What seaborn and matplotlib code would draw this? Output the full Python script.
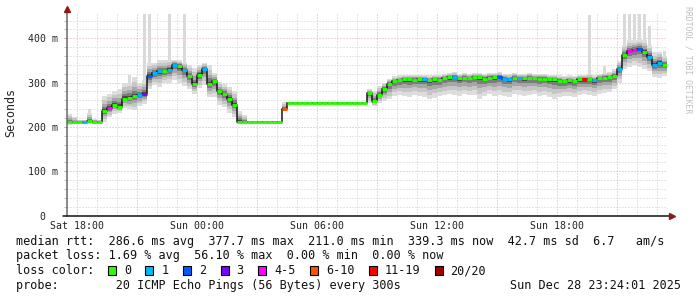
import numpy as np
import pandas as pd
import matplotlib
matplotlib.use("Agg")
import matplotlib.pyplot as plt
from matplotlib.patches import Rectangle
import seaborn as sns

# ---------------- data (15-minute steps starting Sat 17:30) ----------------
step_hours = 0.25
median_ms = [
    211, 211, 211, 211, 213, 211, 211, 235, 243, 250,
    245, 264, 265, 269, 271, 274, 314, 321, 325, 325,
    329, 340, 337, 329, 314, 296, 318, 331, 296, 303,
    280, 274, 264, 250, 212, 211, 211, 211, 211, 211,
    211, 211, 211, 240, 254, 254, 254, 254, 254, 254,
    254, 254, 254, 254, 254, 254, 254, 254, 254, 253,
    276, 258, 272, 285, 297, 303, 305, 307, 307, 306,
    307, 308, 306, 307, 306, 310, 312, 313, 310, 311,
    310, 313, 312, 309, 311, 312, 313, 309, 308, 311,
    310, 310, 311, 310, 309, 309, 308, 307, 304, 303,
    305, 303, 307, 307, 308, 305, 310, 311, 312, 315,
    330, 362, 371, 373, 376, 369, 358, 340, 344, 339]
smoke_high_ms = [
    228, 222, 216, 216, 232, 218, 216, 270, 275, 280,
    285, 300, 300, 312, 300, 305, 345, 345, 350, 350,
    352, 352, 350, 345, 340, 332, 340, 345, 340, 322,
    302, 296, 290, 282, 236, 226, 214, 212, 212, 212,
    212, 212, 212, 256, 254, 254, 254, 254, 254, 254,
    254, 254, 254, 254, 254, 254, 254, 254, 254, 254,
    286, 282, 292, 300, 308, 314, 316, 318, 318, 318,
    318, 318, 316, 318, 317, 320, 322, 323, 320, 321,
    320, 322, 322, 319, 321, 322, 323, 320, 319, 321,
    320, 320, 321, 320, 319, 319, 318, 318, 316, 315,
    316, 315, 318, 318, 319, 316, 320, 322, 324, 330,
    348, 385, 395, 395, 398, 395, 385, 368, 370, 360]
smoke_low_ms = [
    205, 206, 207, 207, 207, 207, 207, 212, 222, 230,
    232, 242, 240, 238, 248, 252, 285, 295, 290, 298,
    300, 305, 298, 292, 285, 275, 288, 295, 268, 268,
    250, 245, 232, 222, 208, 208, 209, 210, 210, 210,
    210, 210, 210, 236, 254, 254, 254, 254, 254, 254,
    254, 254, 254, 254, 254, 254, 254, 254, 254, 253,
    254, 248, 255, 258, 262, 270, 272, 270, 268, 272,
    270, 268, 262, 266, 270, 272, 274, 272, 270, 275,
    272, 272, 262, 270, 274, 270, 272, 270, 268, 275,
    273, 270, 272, 275, 270, 272, 268, 262, 268, 270,
    270, 268, 272, 274, 272, 270, 275, 276, 278, 285,
    300, 330, 335, 340, 335, 330, 325, 312, 310, 315]
loss_level = [
    0, 0, 0, 1, 0, 0, 0, 0, 4, 0,
    0, 0, 0, 0, 1, 3, 2, 1, 1, 0,
    1, 1, 0, 1, 0, 0, 0, 1, 0, 0,
    0, 0, 0, 0, 0, 0, 0, 0, 0, 0,
    0, 0, 0, 5, 0, 0, 0, 0, 0, 0,
    0, 0, 0, 0, 0, 0, 0, 0, 0, 0,
    0, 0, 0, 0, 0, 0, 0, 0, 0, 0,
    0, 1, 0, 0, 0, 0, 0, 1, 0, 0,
    0, 0, 0, 0, 0, 0, 2, 1, 1, 0,
    1, 0, 0, 0, 0, 0, 0, 0, 0, 0,
    0, 0, 0, 6, 0, 1, 0, 0, 0, 0,
    1, 0, 4, 4, 2, 0, 1, 1, 1, 0]
spike_index = [4, 12, 15, 16, 20, 23, 104, 107, 111, 112, 113, 114, 115, 116, 119]
spike_top_ms = [240, 318, 455, 455, 455, 455, 452, 338, 455, 455, 455, 455, 455, 428, 372]

loss_labels = ["0", "1", "2", "3", "4-5", "6-10", "11-19", "20/20"]
loss_colors = ["#26ff00", "#00b8ff", "#0059ff", "#7e00ff",
               "#ff00ff", "#ff5500", "#ff0000", "#a10000"]

x_tick_hours = [0.5, 6.5, 12.5, 18.5, 24.5]
x_tick_labels = ["Sat 18:00", "Sun 00:00", "Sun 06:00", "Sun 12:00", "Sun 18:00"]
y_ticks = [0, 100, 200, 300, 400]
y_tick_labels = ["0  ", "100 m", "200 m", "300 m", "400 m"]

rtt_values = ["286.6 ms avg", "377.7 ms max", "211.0 ms min", "339.3 ms now", "42.7 ms sd", "6.7   am/s"]
loss_values = ["1.69 % avg", "56.10 % max", "0.00 % min", "0.00 % now"]
probe_text = "20 ICMP Echo Pings (56 Bytes) every 300s"
date_text = "Sun Dec 28 23:24:01 2025"

# ---------------- figure ----------------
sns.set_style("white")
plt.rcParams["font.family"] = ["DejaVu Sans Mono", "DejaVu Sans"]

W, H = 697, 297
fig = plt.figure(figsize=(W / 100, H / 100), dpi=100)
fig.patch.set_facecolor("white")
ax = fig.add_axes([67 / W, 1 - 215.5 / H, 600 / W, 202.5 / H])
ax.set_facecolor("white")

n = len(median_ms)
df = pd.DataFrame({
    "t": np.arange(n) * step_hours,
    "median": median_ms,
    "lo": smoke_low_ms,
    "hi": smoke_high_ms,
    "loss": loss_level,
})
t_ext = np.append(df["t"].values, df["t"].values[-1] + step_hours)
med = df["median"].values.astype(float)
lo = df["lo"].values.astype(float)
hi = df["hi"].values.astype(float)

def ext(a):
    return np.append(a, a[-1])

XMAX, YMAX = 30.0, 457.0
ax.set_xlim(0, XMAX)
ax.set_ylim(0, YMAX)

# grid
dot = (0, (1, 2))
for h in np.arange(0.5, XMAX, 1.0):
    major = abs(((h - 0.5) / 3) - round((h - 0.5) / 3)) < 1e-6
    ax.axvline(h, color="#e2aaaa" if major else "#cfcfcf", lw=0.72,
               linestyle=dot, zorder=0)
for v in range(20, int(YMAX), 20):
    major = v % 100 == 0
    ax.axhline(v, color="#e2aaaa" if major else "#cfcfcf", lw=0.72,
               linestyle=dot, zorder=0)
    ax.plot([-3 / 600, 0], [v, v], transform=ax.get_yaxis_transform(),
            color="#e2aaaa" if major else "#cfcfcf", lw=0.72, clip_on=False, zorder=0)

# spikes (single outlying pings)
sp_t = np.array(spike_index) * step_hours
sp_base = med[np.array(spike_index)]
ax.bar(sp_t + step_hours / 2, np.array(spike_top_ms) - sp_base, bottom=sp_base,
       width=0.14, color="#dadada", linewidth=0, zorder=1)

# smoke layers
layers = [(1.0, "#dddddd"), (0.75, "#c6c6c6"), (0.5, "#a6a6a6"),
          (0.3, "#7c7c7c"), (0.14, "#4a4a4a")]
for frac, col in layers:
    low = med - frac * (med - lo)
    high = med + frac * (hi - med)
    ax.fill_between(t_ext, ext(low), ext(high), step="post", color=col,
                    linewidth=0, zorder=2)

# median connector (dark) via seaborn
line_df = pd.DataFrame({"t": t_ext, "m": ext(med)})
sns.lineplot(data=line_df, x="t", y="m", drawstyle="steps-post", color="#151515",
             lw=1.1, ax=ax, zorder=3, estimator=None, sort=False)

# coloured median segments by loss
ax.hlines(med, df["t"].values, df["t"].values + step_hours,
          colors=[loss_colors[l] for l in loss_level], lw=2.1, zorder=4,
          capstyle="butt")

# axes decoration
for s in ax.spines.values():
    s.set_visible(False)
ax.set_xlabel("")
ax.set_ylabel("")
ax.set_xticks(x_tick_hours)
ax.set_xticklabels(x_tick_labels)
ax.set_yticks(y_ticks)
ax.set_yticklabels(y_tick_labels)
ax.tick_params(axis="both", length=0, labelsize=7.1, colors="#222222")
ax.tick_params(axis="y", pad=6.5)
ax.tick_params(axis="x", pad=4.2)
for lbl in ax.get_yticklabels():
    if lbl.get_text().strip() == "0":
        lbl.set_va("center_baseline")

# y axis line + arrow
ax.plot([0, 0], [0, 1.012], transform=ax.transAxes, color="#6a6a6a", lw=1.1,
        clip_on=False, zorder=5)
ax.plot([0], [1.018], transform=ax.transAxes, marker="^", color="#8b1a1a",
        markersize=4.5, clip_on=False, zorder=6)
# x axis line + arrow
ax.plot([-4 / 600, 1.004], [0, 0], transform=ax.transAxes, color="#111111", lw=1.1,
        clip_on=False, zorder=5)
ax.plot([1.009], [0], transform=ax.transAxes, marker=">", color="#8b1a1a",
        markersize=4.5, clip_on=False, zorder=6)

# y label and watermark
fig.text(11 / W, 1 - 113 / H, "Seconds", rotation=90, ha="center", va="center",
         fontsize=8.4, color="#222222")
fig.text(688 / W, 1 - 6 / H, "RRDTOOL / TOBI OETIKER", rotation=270, ha="center",
         va="top", fontsize=5.9, color="#c0c0c0")

# legend / statistics block
CH = 7.07  # character pitch in px
def ftxt(xpx, ypx, s, **kw):
    fig.text(xpx / W, 1 - ypx / H, s, ha=kw.pop("ha", "left"), va="center",
             fontsize=8.45, color="#111111", **kw)

line1 = "median rtt:  " + "  ".join(rtt_values)
line2 = "packet loss: " + "  ".join(loss_values)
ftxt(16, 241, line1)
ftxt(16, 256, line2)
ftxt(16, 270.5, "loss color:")
xpos = 16 + 13 * CH
for lab, col in zip(loss_labels, loss_colors):
    fig.add_artist(Rectangle((xpos / W, 1 - 275 / H), 8 / W, 9 / H,
                             transform=fig.transFigure, facecolor=col,
                             edgecolor="black", lw=0.8))
    ftxt(xpos + 16, 270.5, lab)
    xpos = xpos + 16 + len(lab) * CH + 14.5
ftxt(16, 285.5, "probe:        " + probe_text)
ftxt(681, 285.5, date_text, ha="right")

fig.savefig("out.png", dpi=100, facecolor="white")
